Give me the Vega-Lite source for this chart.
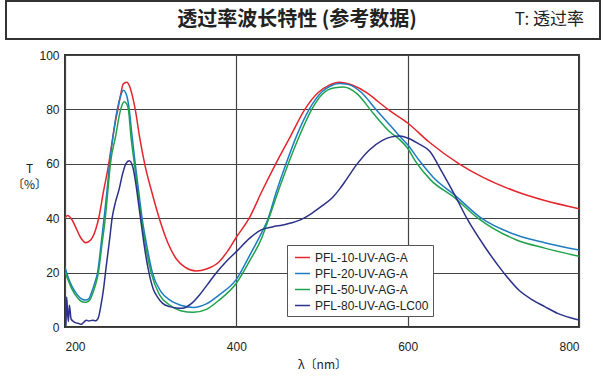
{
  "$schema": "https://vega.github.io/schema/vega-lite/v6.json",
  "background": "white",
  "padding": {"left": 3, "top": 0, "right": 0, "bottom": 0},
  "spacing": 8,
  "resolve": {"scale": {"color": "independent"}, "legend": {"color": "independent"}},
  "config": {
    "view": {"stroke": "#333333", "strokeWidth": 2},
    "font": "Liberation Sans"
  },
  "vconcat": [
    {
      "width": 594,
      "height": 38,
      "layer": [
        {
          "data": {"values": [{"label": "透过率波长特性 (参考数据)"}]},
          "mark": {"type": "text", "font": "Noto Sans CJK SC", "fontSize": 20, "fontWeight": "bold", "color": "#222222", "baseline": "middle", "align": "center", "dx": -6},
          "encoding": {"text": {"field": "label"}}
        },
        {
          "data": {"values": [{"label": "T: 透过率"}]},
          "mark": {"type": "text", "font": "Noto Sans CJK SC", "fontSize": 17, "color": "#222222", "baseline": "middle", "align": "right", "dx": -16},
          "encoding": {"text": {"field": "label"}, "x": {"value": "width"}}
        }
      ]
    },
    {
      "spacing": 0,
      "resolve": {"scale": {"color": "independent"}, "legend": {"color": "independent"}},
      "hconcat": [
        {
          "width": 1,
          "height": 272,
          "view": {"stroke": null},
          "data": {"values": [{"n": 0}]},
          "mark": {"type": "point", "opacity": 0}
        },
        {
          "width": 514,
          "height": 272,
          "data": {"values": [
            {"series":"PFL-10-UV-AG-A","wl":200,"T":40},{"series":"PFL-10-UV-AG-A","wl":203,"T":41},{"series":"PFL-10-UV-AG-A","wl":207,"T":40},{"series":"PFL-10-UV-AG-A","wl":212,"T":37},{"series":"PFL-10-UV-AG-A","wl":218,"T":33},{"series":"PFL-10-UV-AG-A","wl":224,"T":31},{"series":"PFL-10-UV-AG-A","wl":230,"T":32},{"series":"PFL-10-UV-AG-A","wl":236,"T":36},{"series":"PFL-10-UV-AG-A","wl":240,"T":41},{"series":"PFL-10-UV-AG-A","wl":245,"T":50},{"series":"PFL-10-UV-AG-A","wl":250,"T":58},{"series":"PFL-10-UV-AG-A","wl":254,"T":66},{"series":"PFL-10-UV-AG-A","wl":258,"T":74},{"series":"PFL-10-UV-AG-A","wl":262,"T":80.5},{"series":"PFL-10-UV-AG-A","wl":265,"T":85.5},{"series":"PFL-10-UV-AG-A","wl":268,"T":89.3},{"series":"PFL-10-UV-AG-A","wl":272,"T":90},{"series":"PFL-10-UV-AG-A","wl":276,"T":88},{"series":"PFL-10-UV-AG-A","wl":279,"T":84.5},{"series":"PFL-10-UV-AG-A","wl":282,"T":80},{"series":"PFL-10-UV-AG-A","wl":287,"T":70},{"series":"PFL-10-UV-AG-A","wl":293,"T":60},{"series":"PFL-10-UV-AG-A","wl":301,"T":50},{"series":"PFL-10-UV-AG-A","wl":310,"T":40},{"series":"PFL-10-UV-AG-A","wl":320,"T":31},{"series":"PFL-10-UV-AG-A","wl":330,"T":25},{"series":"PFL-10-UV-AG-A","wl":340,"T":22},{"series":"PFL-10-UV-AG-A","wl":353,"T":20.6},{"series":"PFL-10-UV-AG-A","wl":365,"T":21.3},{"series":"PFL-10-UV-AG-A","wl":380,"T":24},{"series":"PFL-10-UV-AG-A","wl":390,"T":28},{"series":"PFL-10-UV-AG-A","wl":400,"T":33},{"series":"PFL-10-UV-AG-A","wl":415,"T":40},{"series":"PFL-10-UV-AG-A","wl":430,"T":50},{"series":"PFL-10-UV-AG-A","wl":446,"T":60},{"series":"PFL-10-UV-AG-A","wl":463,"T":70},{"series":"PFL-10-UV-AG-A","wl":480,"T":80},{"series":"PFL-10-UV-AG-A","wl":495,"T":86},{"series":"PFL-10-UV-AG-A","wl":509,"T":89},{"series":"PFL-10-UV-AG-A","wl":520,"T":90},{"series":"PFL-10-UV-AG-A","wl":535,"T":89},{"series":"PFL-10-UV-AG-A","wl":553,"T":86},{"series":"PFL-10-UV-AG-A","wl":565,"T":83},{"series":"PFL-10-UV-AG-A","wl":577,"T":80},{"series":"PFL-10-UV-AG-A","wl":600,"T":75},{"series":"PFL-10-UV-AG-A","wl":625,"T":68},{"series":"PFL-10-UV-AG-A","wl":660,"T":60},{"series":"PFL-10-UV-AG-A","wl":688,"T":55},{"series":"PFL-10-UV-AG-A","wl":725,"T":50},{"series":"PFL-10-UV-AG-A","wl":760,"T":46.5},{"series":"PFL-10-UV-AG-A","wl":800,"T":43.5},
            {"series":"PFL-20-UV-AG-A","wl":200,"T":22},{"series":"PFL-20-UV-AG-A","wl":204,"T":18},{"series":"PFL-20-UV-AG-A","wl":208,"T":15},{"series":"PFL-20-UV-AG-A","wl":214,"T":12},{"series":"PFL-20-UV-AG-A","wl":220,"T":10.2},{"series":"PFL-20-UV-AG-A","wl":224,"T":9.9},{"series":"PFL-20-UV-AG-A","wl":228,"T":10.5},{"series":"PFL-20-UV-AG-A","wl":232,"T":13.6},{"series":"PFL-20-UV-AG-A","wl":235,"T":16.5},{"series":"PFL-20-UV-AG-A","wl":238,"T":20},{"series":"PFL-20-UV-AG-A","wl":242,"T":30},{"series":"PFL-20-UV-AG-A","wl":245.6,"T":40},{"series":"PFL-20-UV-AG-A","wl":249,"T":50},{"series":"PFL-20-UV-AG-A","wl":252,"T":60},{"series":"PFL-20-UV-AG-A","wl":256,"T":70},{"series":"PFL-20-UV-AG-A","wl":261,"T":80},{"series":"PFL-20-UV-AG-A","wl":265,"T":85},{"series":"PFL-20-UV-AG-A","wl":268,"T":87},{"series":"PFL-20-UV-AG-A","wl":271,"T":86},{"series":"PFL-20-UV-AG-A","wl":275,"T":80},{"series":"PFL-20-UV-AG-A","wl":278,"T":71},{"series":"PFL-20-UV-AG-A","wl":282,"T":60},{"series":"PFL-20-UV-AG-A","wl":286,"T":50},{"series":"PFL-20-UV-AG-A","wl":290,"T":40},{"series":"PFL-20-UV-AG-A","wl":296,"T":29},{"series":"PFL-20-UV-AG-A","wl":302,"T":20},{"series":"PFL-20-UV-AG-A","wl":312,"T":13},{"series":"PFL-20-UV-AG-A","wl":322,"T":10},{"series":"PFL-20-UV-AG-A","wl":335,"T":8},{"series":"PFL-20-UV-AG-A","wl":350,"T":7.2},{"series":"PFL-20-UV-AG-A","wl":365,"T":8.5},{"series":"PFL-20-UV-AG-A","wl":380,"T":11.8},{"series":"PFL-20-UV-AG-A","wl":400,"T":17.5},{"series":"PFL-20-UV-AG-A","wl":415,"T":26},{"series":"PFL-20-UV-AG-A","wl":430,"T":35},{"series":"PFL-20-UV-AG-A","wl":436,"T":39},{"series":"PFL-20-UV-AG-A","wl":447,"T":50},{"series":"PFL-20-UV-AG-A","wl":458,"T":60},{"series":"PFL-20-UV-AG-A","wl":470,"T":70},{"series":"PFL-20-UV-AG-A","wl":485,"T":80},{"series":"PFL-20-UV-AG-A","wl":500,"T":86.5},{"series":"PFL-20-UV-AG-A","wl":510,"T":88.6},{"series":"PFL-20-UV-AG-A","wl":520,"T":89.5},{"series":"PFL-20-UV-AG-A","wl":530,"T":89.2},{"series":"PFL-20-UV-AG-A","wl":545,"T":86.5},{"series":"PFL-20-UV-AG-A","wl":563,"T":80},{"series":"PFL-20-UV-AG-A","wl":580,"T":74},{"series":"PFL-20-UV-AG-A","wl":591,"T":70},{"series":"PFL-20-UV-AG-A","wl":600,"T":67},{"series":"PFL-20-UV-AG-A","wl":614,"T":61},{"series":"PFL-20-UV-AG-A","wl":630,"T":55},{"series":"PFL-20-UV-AG-A","wl":655,"T":48.5},{"series":"PFL-20-UV-AG-A","wl":686,"T":40},{"series":"PFL-20-UV-AG-A","wl":727,"T":33.8},{"series":"PFL-20-UV-AG-A","wl":760,"T":31},{"series":"PFL-20-UV-AG-A","wl":800,"T":28.3},
            {"series":"PFL-50-UV-AG-A","wl":200,"T":20.3},{"series":"PFL-50-UV-AG-A","wl":204,"T":17},{"series":"PFL-50-UV-AG-A","wl":208,"T":14},{"series":"PFL-50-UV-AG-A","wl":214,"T":11},{"series":"PFL-50-UV-AG-A","wl":220,"T":9.3},{"series":"PFL-50-UV-AG-A","wl":225,"T":9.1},{"series":"PFL-50-UV-AG-A","wl":229,"T":10},{"series":"PFL-50-UV-AG-A","wl":233,"T":13},{"series":"PFL-50-UV-AG-A","wl":236,"T":16},{"series":"PFL-50-UV-AG-A","wl":239,"T":20},{"series":"PFL-50-UV-AG-A","wl":243,"T":30},{"series":"PFL-50-UV-AG-A","wl":247,"T":40},{"series":"PFL-50-UV-AG-A","wl":250,"T":50},{"series":"PFL-50-UV-AG-A","wl":253,"T":60},{"series":"PFL-50-UV-AG-A","wl":259,"T":70},{"series":"PFL-50-UV-AG-A","wl":265,"T":80},{"series":"PFL-50-UV-AG-A","wl":269,"T":82.8},{"series":"PFL-50-UV-AG-A","wl":272,"T":82},{"series":"PFL-50-UV-AG-A","wl":274,"T":80},{"series":"PFL-50-UV-AG-A","wl":277,"T":70},{"series":"PFL-50-UV-AG-A","wl":281,"T":60},{"series":"PFL-50-UV-AG-A","wl":285,"T":50},{"series":"PFL-50-UV-AG-A","wl":289,"T":40},{"series":"PFL-50-UV-AG-A","wl":294,"T":30},{"series":"PFL-50-UV-AG-A","wl":300.5,"T":20},{"series":"PFL-50-UV-AG-A","wl":310,"T":12},{"series":"PFL-50-UV-AG-A","wl":322,"T":8.1},{"series":"PFL-50-UV-AG-A","wl":335,"T":6},{"series":"PFL-50-UV-AG-A","wl":350,"T":5.4},{"series":"PFL-50-UV-AG-A","wl":365,"T":6.5},{"series":"PFL-50-UV-AG-A","wl":380,"T":9.9},{"series":"PFL-50-UV-AG-A","wl":400,"T":16.1},{"series":"PFL-50-UV-AG-A","wl":415,"T":24},{"series":"PFL-50-UV-AG-A","wl":430,"T":33},{"series":"PFL-50-UV-AG-A","wl":438,"T":40},{"series":"PFL-50-UV-AG-A","wl":449,"T":50},{"series":"PFL-50-UV-AG-A","wl":460,"T":59.5},{"series":"PFL-50-UV-AG-A","wl":472,"T":69},{"series":"PFL-50-UV-AG-A","wl":488,"T":80},{"series":"PFL-50-UV-AG-A","wl":500,"T":85.5},{"series":"PFL-50-UV-AG-A","wl":515,"T":88},{"series":"PFL-50-UV-AG-A","wl":525,"T":88.2},{"series":"PFL-50-UV-AG-A","wl":540,"T":86},{"series":"PFL-50-UV-AG-A","wl":560,"T":78.5},{"series":"PFL-50-UV-AG-A","wl":580,"T":71.5},{"series":"PFL-50-UV-AG-A","wl":591,"T":68.8},{"series":"PFL-50-UV-AG-A","wl":600,"T":65.7},{"series":"PFL-50-UV-AG-A","wl":609,"T":61},{"series":"PFL-50-UV-AG-A","wl":627,"T":54},{"series":"PFL-50-UV-AG-A","wl":655,"T":47.5},{"series":"PFL-50-UV-AG-A","wl":682,"T":40},{"series":"PFL-50-UV-AG-A","wl":727,"T":32},{"series":"PFL-50-UV-AG-A","wl":760,"T":29},{"series":"PFL-50-UV-AG-A","wl":800,"T":26},
            {"series":"PFL-80-UV-AG-LC00","wl":200,"T":0},{"series":"PFL-80-UV-AG-LC00","wl":201,"T":0.5},{"series":"PFL-80-UV-AG-LC00","wl":202,"T":11},{"series":"PFL-80-UV-AG-LC00","wl":203,"T":5},{"series":"PFL-80-UV-AG-LC00","wl":204,"T":2},{"series":"PFL-80-UV-AG-LC00","wl":205,"T":8},{"series":"PFL-80-UV-AG-LC00","wl":206,"T":6},{"series":"PFL-80-UV-AG-LC00","wl":207,"T":3},{"series":"PFL-80-UV-AG-LC00","wl":210,"T":2},{"series":"PFL-80-UV-AG-LC00","wl":213,"T":1.5},{"series":"PFL-80-UV-AG-LC00","wl":216,"T":1.3},{"series":"PFL-80-UV-AG-LC00","wl":219,"T":1},{"series":"PFL-80-UV-AG-LC00","wl":222,"T":1.8},{"series":"PFL-80-UV-AG-LC00","wl":225,"T":2.5},{"series":"PFL-80-UV-AG-LC00","wl":228,"T":2.2},{"series":"PFL-80-UV-AG-LC00","wl":232,"T":2.5},{"series":"PFL-80-UV-AG-LC00","wl":236,"T":2.3},{"series":"PFL-80-UV-AG-LC00","wl":239,"T":3.5},{"series":"PFL-80-UV-AG-LC00","wl":242,"T":8},{"series":"PFL-80-UV-AG-LC00","wl":245,"T":14},{"series":"PFL-80-UV-AG-LC00","wl":248,"T":22},{"series":"PFL-80-UV-AG-LC00","wl":252,"T":32},{"series":"PFL-80-UV-AG-LC00","wl":255,"T":40},{"series":"PFL-80-UV-AG-LC00","wl":259,"T":46},{"series":"PFL-80-UV-AG-LC00","wl":263,"T":50.4},{"series":"PFL-80-UV-AG-LC00","wl":267,"T":56},{"series":"PFL-80-UV-AG-LC00","wl":271,"T":60},{"series":"PFL-80-UV-AG-LC00","wl":275,"T":61.1},{"series":"PFL-80-UV-AG-LC00","wl":279,"T":59},{"series":"PFL-80-UV-AG-LC00","wl":283,"T":52},{"series":"PFL-80-UV-AG-LC00","wl":286,"T":45},{"series":"PFL-80-UV-AG-LC00","wl":289,"T":38},{"series":"PFL-80-UV-AG-LC00","wl":292,"T":31},{"series":"PFL-80-UV-AG-LC00","wl":295,"T":25},{"series":"PFL-80-UV-AG-LC00","wl":298,"T":20},{"series":"PFL-80-UV-AG-LC00","wl":303,"T":14},{"series":"PFL-80-UV-AG-LC00","wl":308,"T":11},{"series":"PFL-80-UV-AG-LC00","wl":314,"T":8.7},{"series":"PFL-80-UV-AG-LC00","wl":322,"T":7.5},{"series":"PFL-80-UV-AG-LC00","wl":330,"T":7},{"series":"PFL-80-UV-AG-LC00","wl":337,"T":6.9},{"series":"PFL-80-UV-AG-LC00","wl":347,"T":8.5},{"series":"PFL-80-UV-AG-LC00","wl":357,"T":11.8},{"series":"PFL-80-UV-AG-LC00","wl":366,"T":15.5},{"series":"PFL-80-UV-AG-LC00","wl":376,"T":19.7},{"series":"PFL-80-UV-AG-LC00","wl":388,"T":24},{"series":"PFL-80-UV-AG-LC00","wl":400,"T":27.7},{"series":"PFL-80-UV-AG-LC00","wl":415,"T":32.5},{"series":"PFL-80-UV-AG-LC00","wl":429,"T":35.7},{"series":"PFL-80-UV-AG-LC00","wl":442,"T":36.8},{"series":"PFL-80-UV-AG-LC00","wl":454,"T":37.5},{"series":"PFL-80-UV-AG-LC00","wl":465,"T":38.3},{"series":"PFL-80-UV-AG-LC00","wl":474,"T":39.3},{"series":"PFL-80-UV-AG-LC00","wl":489,"T":42},{"series":"PFL-80-UV-AG-LC00","wl":500,"T":44.5},{"series":"PFL-80-UV-AG-LC00","wl":512,"T":47.5},{"series":"PFL-80-UV-AG-LC00","wl":520,"T":50.5},{"series":"PFL-80-UV-AG-LC00","wl":528,"T":54},{"series":"PFL-80-UV-AG-LC00","wl":540,"T":59.5},{"series":"PFL-80-UV-AG-LC00","wl":555,"T":65},{"series":"PFL-80-UV-AG-LC00","wl":570,"T":68.5},{"series":"PFL-80-UV-AG-LC00","wl":580,"T":69.8},{"series":"PFL-80-UV-AG-LC00","wl":591,"T":70.2},{"series":"PFL-80-UV-AG-LC00","wl":600,"T":69.5},{"series":"PFL-80-UV-AG-LC00","wl":612,"T":67.5},{"series":"PFL-80-UV-AG-LC00","wl":626,"T":64.5},{"series":"PFL-80-UV-AG-LC00","wl":640,"T":57},{"series":"PFL-80-UV-AG-LC00","wl":655,"T":48.5},{"series":"PFL-80-UV-AG-LC00","wl":669,"T":40},{"series":"PFL-80-UV-AG-LC00","wl":690,"T":29.5},{"series":"PFL-80-UV-AG-LC00","wl":712,"T":20},{"series":"PFL-80-UV-AG-LC00","wl":730,"T":13.5},{"series":"PFL-80-UV-AG-LC00","wl":746,"T":9.9},{"series":"PFL-80-UV-AG-LC00","wl":760,"T":7.5},{"series":"PFL-80-UV-AG-LC00","wl":775,"T":5},{"series":"PFL-80-UV-AG-LC00","wl":790,"T":3.4},{"series":"PFL-80-UV-AG-LC00","wl":800,"T":2.6}
          ]},
          "mark": {"type": "line", "strokeWidth": 1.5, "interpolate": "monotone", "clip": true},
          "encoding": {
            "x": {
              "field": "wl", "type": "quantitative",
              "scale": {"domain": [200, 800], "nice": false},
              "axis": {"values": [200, 400, 600, 800], "grid": true, "gridColor": "#444444", "gridWidth": 1.2, "ticks": false, "domain": false, "labelFontSize": 12, "labelColor": "#222222", "labelPadding": 14, "title": "λ〔nm〕", "titleFont": "Noto Sans CJK SC", "titleFontSize": 12, "titleFontWeight": "normal", "titleColor": "#222222", "titlePadding": 7}
            },
            "y": {
              "field": "T", "type": "quantitative",
              "scale": {"domain": [0, 100], "nice": false},
              "axis": {"values": [0, 20, 40, 60, 80, 100], "grid": true, "gridColor": "#444444", "gridWidth": 1.2, "ticks": false, "domain": false, "labelFontSize": 12, "labelColor": "#222222", "labelPadding": 6, "title": ["T", "〔%〕"], "titleFont": "Noto Sans CJK SC", "titleFontSize": 12, "titleFontWeight": "normal", "titleColor": "#222222", "titleAngle": 0, "titleX": -36, "titleY": 113, "titleAlign": "center", "titleBaseline": "middle", "titleLineHeight": 16}
            },
            "color": {
              "field": "series", "type": "nominal",
              "scale": {"domain": ["PFL-10-UV-AG-A", "PFL-20-UV-AG-A", "PFL-50-UV-AG-A", "PFL-80-UV-AG-LC00"], "range": ["#e4252c", "#1f7cc2", "#1fa24c", "#2c3189"]},
              "legend": {"orient": "none", "legendX": 222, "legendY": 190, "title": null, "strokeColor": "#555555", "fillColor": "white", "padding": 4, "symbolOffset": 3, "symbolType": "stroke", "symbolSize": 225, "symbolStrokeWidth": 1.5, "labelFontSize": 12, "labelColor": "#222222", "rowPadding": 1, "labelOffset": 4}
            }
          }
        }
      ]
    }
  ]
}
